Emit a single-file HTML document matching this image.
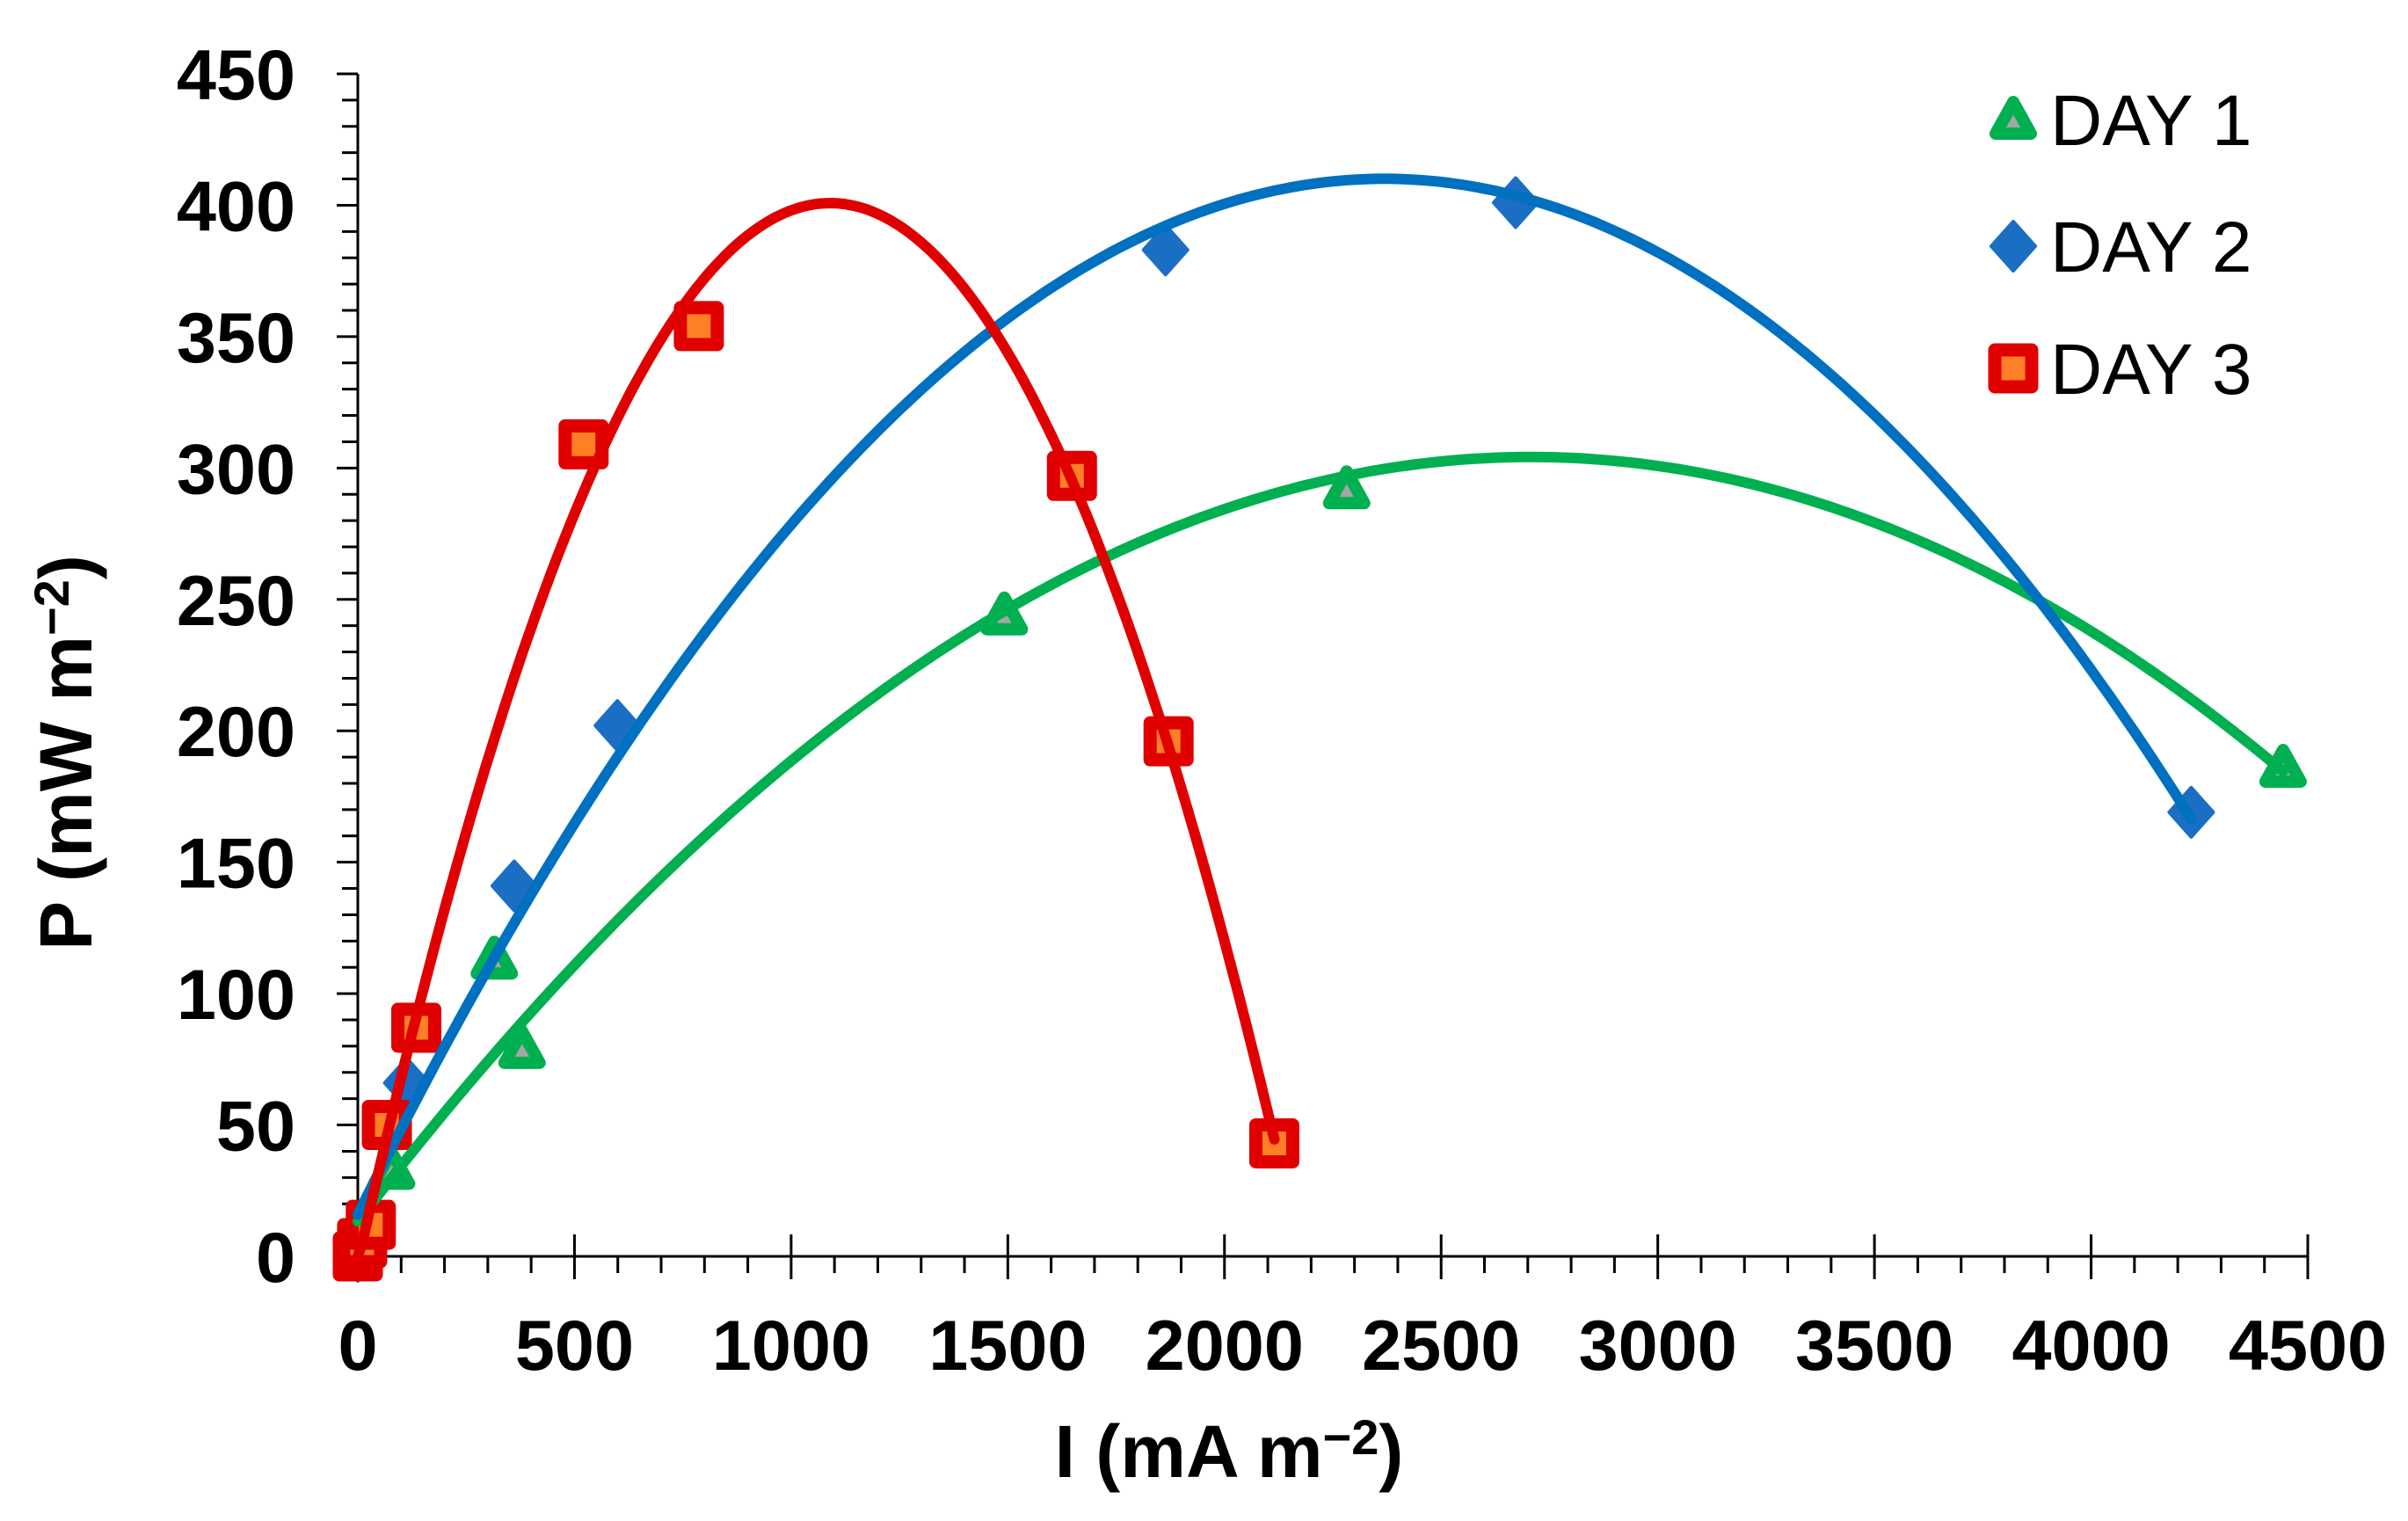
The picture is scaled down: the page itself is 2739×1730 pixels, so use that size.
<!DOCTYPE html>
<html><head><meta charset="utf-8"><style>
html,body{margin:0;padding:0;background:#fff;}
svg{display:block;}
text{font-family:"Liberation Sans",Arial,sans-serif;font-weight:bold;fill:#000;}
</style></head><body>
<svg id="chart" width="2739" height="1730" viewBox="0 0 2739 1730" xmlns="http://www.w3.org/2000/svg">
<g id="axes"></g>
<g id="markers"></g>
<g id="curves"></g>
<g id="legend"></g>
<text x="1398" y="1680" font-size="84" text-anchor="middle">I (mA m<tspan dy="-26" font-size="56">−2</tspan><tspan dy="26">)</tspan></text>
<text transform="translate(104,856) rotate(-90)" font-size="84" text-anchor="middle">P (mW m<tspan dy="-26" font-size="56">−2</tspan><tspan dy="26">)</tspan></text>
</svg>
<script>
const xTicks=[0,500,1000,1500,2000,2500,3000,3500,4000,4500];
const yTicks=[0,50,100,150,200,250,300,350,400,450];
const seriesNames=["DAY 1","DAY 2","DAY 3"];
const day1I=[0,10,78,315,379,1492,2282,4443];
const day1P=[0,5,33,113,79,244,292,186];
const day2I=[0,10,113,361,599,1864,2672,4231];
const day2P=[0,5,66,141,202,383,401,169];
const day3I=[0,10,30,67,135,521,787,1648,1871,2115];
const day3P=[0,5,12,50,87,309,354,297,196,43];

const X0=407,X1=2625,Y0=1429,Y1=84;
function sx(v){return X0+(v-0)/4500*(X1-X0);}
function sy(v){return Y0-(v-0)/450*(Y0-Y1);}
const NS="http://www.w3.org/2000/svg";
function mk(tag,attrs,parent){const e=document.createElementNS(NS,tag);for(const k in attrs)e.setAttribute(k,attrs[k]);parent.appendChild(e);return e;}
const axes=document.getElementById('axes');
let a=mk('line',{x1:X0,y1:Y1,x2:X0,y2:Y0,stroke:'#000','stroke-width':3},axes);


a=mk('line',{x1:X0,y1:Y0,x2:X1,y2:Y0,stroke:'#000','stroke-width':3},axes);


for(let v=0;v<=450;v+=10){const major=v%50===0;const t=mk('line',{x1:X0-(major?24:18),x2:X0,y1:sy(v),y2:sy(v),stroke:'#000','stroke-width':3},axes);

}
for(let v=0;v<=4500;v+=100){const major=v%500===0;if(v===0)continue;const t=mk('line',{x1:sx(v),x2:sx(v),y1:major?Y0-25:Y0,y2:major?Y0+26:Y0+19,stroke:'#000','stroke-width':3},axes);

}
yTicks.forEach(v=>{const t=mk('text',{x:336,y:sy(v)+29,'font-size':81,'text-anchor':'end'},axes);t.textContent=v;

});
xTicks.forEach(v=>{const t=mk('text',{x:sx(v),y:1558,'font-size':81,'text-anchor':'middle'},axes);t.textContent=v;

});

function fitQuad(xs,ys){let S=[0,0,0,0,0],T=[0,0,0];for(let i=0;i<xs.length;i++){let p=1;for(let k=0;k<5;k++){S[k]+=p;if(k<3)T[k]+=p*ys[i];p*=xs[i];}}
const M=[[S[0],S[1],S[2],T[0]],[S[1],S[2],S[3],T[1]],[S[2],S[3],S[4],T[2]]];
for(let i=0;i<3;i++){for(let j=i+1;j<3;j++){const f=M[j][i]/M[i][i];for(let k=i;k<4;k++)M[j][k]-=f*M[i][k];}}
const c=[0,0,0];for(let i=2;i>=0;i--){let s=M[i][3];for(let k=i+1;k<3;k++)s-=M[i][k]*c[k];c[i]=s/M[i][i];}return c;}

const colors=["#00b050","#0070c0","#e00000"];
const series=[[day1I,day1P],[day2I,day2P],[day3I,day3P]];
const curves=document.getElementById('curves'),markers=document.getElementById('markers');
function drawMarker(type,cx,cy,parent){
 let e;
 if(type===0){e=mk('g',{},parent);
  mk('path',{d:`M${cx},${cy-20} L${cx+20},${cy+16} L${cx-20},${cy+16} Z`,fill:'#a5a5a5',stroke:'#00b050','stroke-width':14,'stroke-linejoin':'round'},e);}
 else if(type===1){e=mk('path',{d:`M${cx},${cy-28} L${cx+25},${cy} L${cx},${cy+28} L${cx-25},${cy} Z`,fill:'#1a6fc4',stroke:'#1a6fc4','stroke-width':4,'stroke-linejoin':'round'},parent);}
 else {e=mk('rect',{x:cx-21,y:cy-21,width:42,height:42,fill:'#ff7f27',stroke:'#e00000','stroke-width':15,'stroke-linejoin':'round'},parent);}
 return e;
}
series.forEach((s,si)=>{
 const c=fitQuad(s[0],s[1]);
 const xmax=Math.max(...s[0]);
 let d='';
 for(let i=0;i<=200;i++){const x=xmax*i/200;const y=c[0]+c[1]*x+c[2]*x*x;d+=(i?'L':'M')+sx(x).toFixed(1)+','+sy(Math.max(y,0)).toFixed(1);}
 const p=mk('path',{d:d,fill:'none',stroke:colors[si],'stroke-width':12,'stroke-linecap':'round'},curves);
 
 
 s[0].forEach((xv,i)=>{const m=drawMarker(si,sx(xv),sy(s[1][i]),markers);
  
  });
});
const legend=document.getElementById('legend');
const ly=[136,280,419];
seriesNames.forEach((n,i)=>{
 const g=mk('g',{},legend);
 
 
 drawMarker(i,2290,ly[i],g);
 const t=mk('text',{x:2332,y:ly[i]+29,'font-size':82},g);
 t.setAttribute('style','font-weight:normal');
 t.textContent=n;
});
</script>
</body></html>
